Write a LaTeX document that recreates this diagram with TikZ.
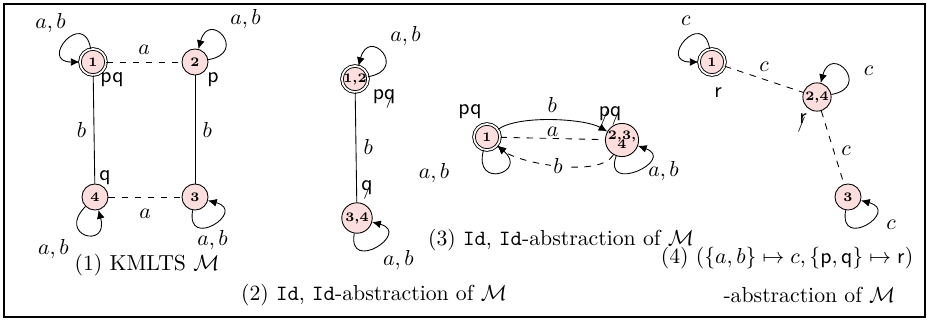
\documentclass[tikz,border=0pt]{standalone}
\usepackage{amsmath,amssymb,amsfonts}
\usepackage{xcolor}
\usepackage{tikz}
\usetikzlibrary{positioning, shapes, arrows, arrows.meta}

\definecolor{statefill}{RGB}{253,222,222}
% struck-out proposition
\newcommand{\negp}[1]{\textsf{#1}\llap{\raisebox{-0.5ex}{$\scriptstyle/$}\kern0.3pt}}

\begin{document}
\begin{tikzpicture}[x=0.46pt, y=-0.46pt, >={Latex[length=4pt,width=3.6pt]},
  st/.style={draw, circle, fill=statefill, minimum size=12pt, inner sep=0pt,
    font=\fontsize{6}{6}\selectfont\bfseries},
  acc/.style={st, double, double distance=0.8pt},
  prop/.style={font=\sffamily, inner sep=1pt}]
  \useasboundingbox (0,0) rectangle (931,322);
  \draw [line width=1.2pt] (4,4) rectangle (925,317);

  % (1) KMLTS
  \node (s1) [acc] at (93,62) {1};
  \node (s2) [st] at (195,62) {2};
  \node (s3) [st] at (195,197) {3};
  \node (s4) [st] at (95,197) {4};
  \node (p1) [prop] at (112,80) {pq};
  \node (p2) [prop] at (213,80) {p};
  \node (p4) [prop] at (105,178) {q};

  \draw [dashed] (s1) -- node[above] {$a$} (s2);
  \draw (s1) -- node[left] {$b$} (s4);
  \draw (s2) -- node[right] {$b$} (s3);
  \draw [dashed] (s4) -- node[below=2pt] {$a$} (s3);
  \draw [->] (s1.100) .. controls +(100:19pt) and +(180:19pt) .. node[above left=0pt and -3pt] {$a, b$} (s1.180);
  \draw [->] (s2.10) .. controls +(10:19pt) and +(75:19pt) .. node[above right=0pt] {$a, b$} (s2.75);
  \draw [->] (s4.-135) .. controls +(-135:19pt) and +(-75:19pt) .. node[below left=-1pt and 4pt] {$a, b$} (s4.-75);
  \draw [->] (s3.-100) .. controls +(-100:19pt) and +(-15:19pt) .. node[below=-1pt] {$a, b$} (s3.-15);
  \node (cap1) at (147,265) {(1) KMLTS $\mathcal{M}$};

  % (2)
  \node (t12) [acc] at (355,79) {1,2};
  \node (t34) [st, minimum size=14pt] at (357,218) {3,4};
  \node (q12) [prop] at (384,99) {p\negp{q}};
  \node (q34) [prop] at (367,190) {\negp{q}};

  \draw (t12) -- node[right] {$b$} (t34);
  \draw [->] (t12.10) .. controls +(10:19pt) and +(75:19pt) .. node[above right=0pt] {$a, b$} (t12.75);
  \draw [->] (t34.-100) .. controls +(-100:19pt) and +(-15:19pt) .. node[below right=-2pt and 0pt] {$a, b$} (t34.-15);
  \node (cap2) at (374,295) {(2) \texttt{Id}, \texttt{Id}-abstraction of $\mathcal{M}$};

  % (3)
  \node (u1) [acc] at (487,137) {1};
  \node (u234) [st, minimum size=14pt, align=center] at (622,140) {2,3,\\[-2pt]4};
  \node (r1) [prop] at (470,112) {pq};
  \node (r234) [prop] at (610,116) {\negp{p}\negp{q}};

  \draw [->] (u1) to [out=35, in=150, looseness=0.6] node[above] {$b$} (u234);
  \draw [dashed] (u1) -- node[above, inner sep=0.5pt] {$a$} (u234);
  \draw [->, dashed] (u234) to [out=-120, in=-40, looseness=0.6]
    node[fill=white, inner sep=1pt] {$b$} (u1);
  \draw [->] (u1.-105) .. controls +(-105:19pt) and +(-40:19pt) .. node[left=19pt] {$a, b$} (u1.-40);
  \draw [->] (u234.-110) .. controls +(-110:19pt) and +(-20:19pt) .. node[right=2pt] {$a, b$} (u234.-20);
  \node (cap3) at (561,240) {(3) \texttt{Id}, \texttt{Id}-abstraction of $\mathcal{M}$};

  % (4)
  \node (v1) [acc] at (712,62) {1};
  \node (v24) [st, minimum size=13pt] at (817,97) {2,4};
  \node (v3) [st] at (848,197) {3};
  \node (w1) [prop] at (718,93) {r};
  \node (w24) [prop] at (803,123) {\negp{r}};

  \draw [dashed] (v1) -- node[above] {$c$} (v24);
  \draw [dashed] (v24) -- node[right, pos=0.55] {$c$} (v3);
  \draw [->] (v1.100) .. controls +(100:19pt) and +(180:19pt) .. node[above=3pt] {$c$} (v1.180);
  \draw [->] (v24.10) .. controls +(10:19pt) and +(75:19pt) .. node[right=5pt] {$c$} (v24.75);
  \draw [->] (v3.-100) .. controls +(-100:19pt) and +(-15:19pt) .. node[right=6pt] {$c$} (v3.-15);
  \node (cap4) [anchor=east] at (921,258)
    {(4) $(\{a, b\} \mapsto c, \{\mathsf{p}, \mathsf{q}\} \mapsto \mathsf{r})$};
  \node (cap4b) [anchor=east] at (903,295) {-abstraction of $\mathcal{M}$};
\end{tikzpicture}
\end{document}
